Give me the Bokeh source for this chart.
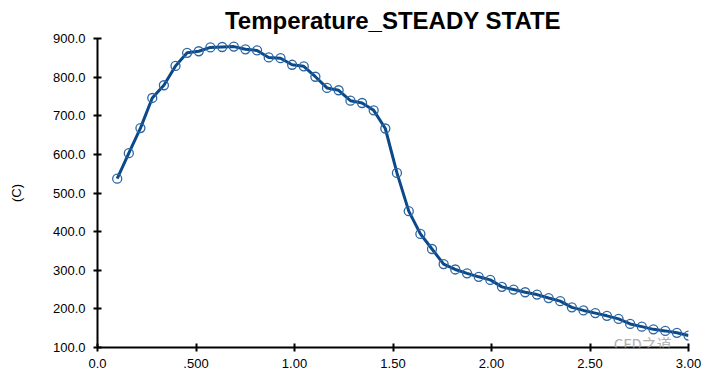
from bokeh.plotting import figure
from bokeh.models import Range1d, FixedTicker, PrintfTickFormatter, Label
from bokeh.embed import file_html
from bokeh.resources import INLINE

# ---- data ----
x_vals = [0.100, 0.159, 0.218, 0.278, 0.337, 0.396, 0.455, 0.514, 0.573, 0.633,
          0.692, 0.751, 0.810, 0.869, 0.929, 0.988, 1.047, 1.106, 1.165, 1.224,
          1.284, 1.343, 1.402, 1.461, 1.520, 1.580, 1.639, 1.698, 1.757, 1.816,
          1.876, 1.935, 1.994, 2.053, 2.112, 2.171, 2.231, 2.290, 2.349, 2.408,
          2.467, 2.527, 2.586, 2.645, 2.704, 2.763, 2.822, 2.882, 2.941, 3.000]
temp_c = [537, 603, 668, 746, 779, 829, 863, 867, 877, 878,
          879, 872, 869, 851, 849, 832, 828, 801, 772, 766,
          739, 733, 714, 667, 552, 453, 394, 355, 316, 302,
          292, 283, 275, 257, 250, 243, 237, 228, 220, 204,
          196, 189, 182, 174, 161, 154, 147, 143, 138, 131]

x_ticks = [0, 0.5, 1, 1.5, 2, 2.5, 3]
x_tick_labels = ["0.0", ".500", "1.00", "1.50", "2.00", "2.50", "3.00"]
y_ticks = [100, 200, 300, 400, 500, 600, 700, 800, 900]

title_text = "Temperature_STEADY STATE"
y_label = "(C)"
watermark = "CFD之道"

LINE_COLOR = "#0b4a8a"
MARK_COLOR = "#2e66a2"
FONT = "Liberation Sans"

p = figure(width=708, height=375, output_backend="svg", toolbar_location=None,
           x_range=Range1d(0, 3), y_range=Range1d(100, 900),
           min_border_left=97, min_border_right=20, min_border_top=38,
           min_border_bottom=28)

p.line(x_vals, temp_c, line_width=3, line_color=LINE_COLOR)
p.scatter(x_vals, temp_c, marker="circle", size=9, fill_color=None,
          line_color=MARK_COLOR, line_width=1.3)

p.title.text = title_text
p.title.align = "center"
p.title.text_font = FONT
p.title.text_font_size = "24px"
p.title.text_font_style = "bold"
p.title.text_color = "black"
p.title.standoff = 9

p.xgrid.visible = False
p.ygrid.visible = False
p.outline_line_color = None
p.background_fill_color = "white"
p.border_fill_color = "white"

for ax in (p.xaxis[0], p.yaxis[0]):
    ax.axis_line_width = 2
    ax.axis_line_color = "black"
    ax.major_tick_line_width = 2
    ax.major_tick_line_color = "black"
    ax.major_tick_in = 4
    ax.major_tick_out = 4
    ax.minor_tick_line_color = None
    ax.major_label_text_font = FONT
    ax.major_label_text_font_size = "13px"
    ax.major_label_text_color = "black"

p.xaxis.ticker = FixedTicker(ticks=x_ticks)
p.xaxis.major_label_overrides = {t: s for t, s in zip(x_ticks, x_tick_labels)}
p.xaxis.major_label_standoff = 7

p.yaxis.ticker = FixedTicker(ticks=y_ticks)
p.yaxis.formatter = PrintfTickFormatter(format="%.1f")
p.yaxis.major_label_standoff = 8
p.yaxis.axis_label = y_label
p.yaxis.axis_label_text_font = FONT
p.yaxis.axis_label_text_font_size = "13px"
p.yaxis.axis_label_text_font_style = "normal"
p.yaxis.axis_label_text_color = "black"
p.yaxis.axis_label_standoff = 26

p.add_layout(Label(x=2.62, y=111, text=watermark, text_font="Noto Sans CJK SC",
                   text_font_size="15px", text_color="#b0b0b0",
                   text_baseline="middle"))

open("out.html", "w").write(file_html(p, INLINE))
